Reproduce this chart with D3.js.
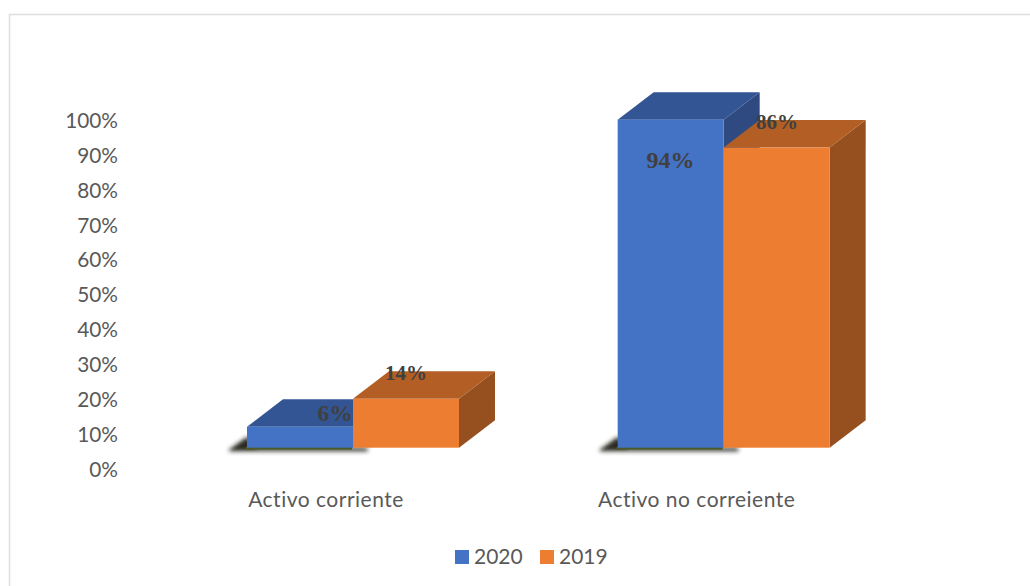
<!DOCTYPE html>
<html><head><meta charset="utf-8">
<script src="https://cdn.jsdelivr.net/npm/d3@7/dist/d3.min.js"></script>
<style>html,body{margin:0;padding:0;background:#fff;overflow:hidden}svg{display:block}</style>
</head><body><svg id="c" width="1030" height="586"></svg>
<script>
const categories = ["Activo corriente", "Activo no correiente"];
const seriesNames = ["2020", "2019"];
const values2020 = [6, 94];
const values2019 = [14, 86];
const labels2020 = ["6%", "94%"];
const labels2019 = ["14%", "86%"];
const tickValues = [0,10,20,30,40,50,60,70,80,90,100];
const colors = {
  "2020": {front:"#4472c4", top:"#335593", side:"#2e4a80"},
  "2019": {front:"#ed7d31", top:"#b25e24", side:"#964f1e"}
};

const svg = d3.select("#c");
const defs = svg.append("defs");
defs.append("filter").attr("id","blur").attr("x","-20%").attr("y","-100%").attr("width","140%").attr("height","300%")
  .append("feGaussianBlur").attr("stdDeviation",2);

// frame: top and left edges only, the others run off the picture
svg.append("path").attr("d","M9.5,586V14.5H1030").attr("fill","none").attr("stroke","#dedede").attr("stroke-width",1.5);

const y = d3.scaleLinear().domain([0,100]).range([469,120]);
const x0 = d3.scaleBand().domain(categories).range([167.65,909]);
const x1 = d3.scaleBand().domain(seriesNames)
  .range([x0.bandwidth()/2-106, x0.bandwidth()/2+106]);
const baseY = 447.7, dx = 36, dy = -27.5;
const h = v => y(0)-y(v);

const yAxis = d3.axisLeft(y).tickValues(tickValues).tickFormat(d=>d+"%").tickSize(0).tickPadding(0);
const ga = svg.append("g").attr("transform","translate(118,0.7)").call(yAxis);
ga.select(".domain").remove();
ga.selectAll("text").attr("font-family","Lato").attr("font-size",20.8).attr("fill","#595959");

const xAxis = d3.axisBottom(x0).tickSize(0).tickPadding(0);
const gx = svg.append("g").attr("transform","translate(-27,492)").call(xAxis);
gx.select(".domain").remove();
gx.selectAll("text").attr("font-family","Lato").attr("font-size",21).attr("letter-spacing",0.5).attr("fill","#595959");

const rows = [
  {name:"2020", vals:values2020, labs:labels2020},
  {name:"2019", vals:values2019, labs:labels2019}
];
const labelPos2020 = [[335,421],[670.5,168]];
const labelPos2019 = [[406,380],[777,129]];
const labelSize2020 = [23.5,24];
const labelSize2019 = [21,21];

categories.forEach((c,i)=>{
  const g = svg.append("g").attr("transform",`translate(${x0(c)},0)`);
  const left = x1("2020");
  // soft shadow
  g.append("path").attr("filter","url(#blur)").attr("fill","#2b2b20")
    .attr("d",`M${left-18},${baseY+2}L${left},${baseY-11}L${left+10},${baseY}L${left+120},${baseY}L${left+121},${baseY+3.5}L${left-18},${baseY+3.5}Z`);
  g.append("rect").attr("x",left-1).attr("y",baseY-1).attr("width",106).attr("height",3).attr("fill","#4d5a2a");
  rows.forEach(r=>{
    const col = colors[r.name], X = x1(r.name), W = x1.bandwidth(), T = baseY-h(r.vals[i]);
    g.append("path").attr("fill",col.side)
      .attr("d",`M${X+W},${T}L${X+W+dx},${T+dy}V${baseY+dy}L${X+W},${baseY}Z`);
    g.append("path").attr("fill",col.top)
      .attr("d",`M${X},${T}L${X+dx},${T+dy}H${X+W+dx}L${X+W},${T}Z`);
    g.append("rect").attr("fill",col.front).attr("x",X).attr("y",T).attr("width",W).attr("height",h(r.vals[i]));
  });
});

const lab = (t,p,s)=>svg.append("text").text(t).attr("x",p[0]).attr("y",p[1]).attr("text-anchor","middle")
  .attr("font-family","Liberation Serif").attr("font-weight","bold").attr("font-size",s).attr("fill","#404040");
categories.forEach((c,i)=>{
  lab(labels2020[i],labelPos2020[i],labelSize2020[i]);
  lab(labels2019[i],labelPos2019[i],labelSize2019[i]);
});

// legend
const lx = [455,540];
seriesNames.forEach((n,i)=>{
  svg.append("rect").attr("x",lx[i]).attr("y",550).attr("width",14).attr("height",14).attr("fill",colors[n].front);
  svg.append("text").text(n).attr("x",lx[i]+19).attr("y",564).attr("font-family","Lato").attr("font-size",21).attr("fill","#595959");
});
</script></body></html>
